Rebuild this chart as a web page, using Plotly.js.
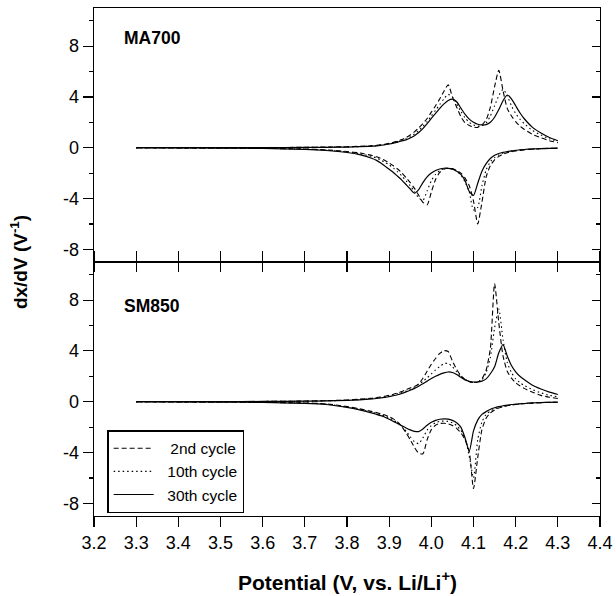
<!DOCTYPE html>
<html>
<head>
<meta charset="utf-8">
<script src="https://cdn.plot.ly/plotly-3.0.1.min.js"></script>
<style>html,body{margin:0;padding:0;background:#fff;}#chart{width:616px;height:596px;}</style>
</head>
<body>
<div id="chart"></div>
<script>
// Potential grid (V vs Li/Li+)
const potential = [3.30, 3.40, 3.50, 3.60, 3.70, 3.75, 3.80, 3.83,
  3.86, 3.87, 3.88, 3.89, 3.90, 3.91, 3.92, 3.93, 3.94, 3.95,
  3.96, 3.97, 3.98, 3.99, 4.00, 4.01, 4.02, 4.03, 4.04, 4.05,
  4.06, 4.07, 4.08, 4.09, 4.10, 4.11, 4.12, 4.13, 4.14, 4.15,
  4.16, 4.17, 4.18, 4.19, 4.20, 4.21, 4.22, 4.24, 4.26, 4.28, 4.30];

const cycleNames = ["2nd cycle", "10th cycle", "30th cycle"];
const panelNames = ["MA700", "SM850"];

// MA700 charge (upper) branches
const ma2Charge = [0, 0, 0, 0.01, 0.03, 0.05, 0.08, 0.11,
  0.15, 0.18, 0.22, 0.27, 0.34, 0.42, 0.52, 0.64, 0.8, 1.0,
  1.25, 1.55, 1.9, 2.3, 2.8, 3.3, 3.85, 4.45, 4.95, 4.0,
  3.2, 2.45, 1.95, 1.75, 1.62, 1.6, 1.8, 2.2, 3.2, 4.8,
  6.1, 4.5, 3.1, 2.5, 2.05, 1.7, 1.45, 1.05, 0.78, 0.55, 0.4];
const ma10Charge = [0, 0, 0, 0.01, 0.02, 0.04, 0.06, 0.09,
  0.13, 0.16, 0.2, 0.25, 0.31, 0.39, 0.48, 0.58, 0.7, 0.86,
  1.08, 1.35, 1.68, 2.05, 2.5, 2.95, 3.4, 3.85, 4.2, 4.0,
  3.45, 2.85, 2.35, 2.0, 1.8, 1.7, 1.72, 1.95, 2.5, 3.3,
  4.1, 4.6, 4.1, 3.3, 2.7, 2.25, 1.9, 1.35, 1.0, 0.7, 0.5];
const ma30Charge = [0, 0, 0, 0.01, 0.02, 0.03, 0.05, 0.08,
  0.12, 0.15, 0.19, 0.23, 0.29, 0.36, 0.44, 0.53, 0.62, 0.76,
  0.95, 1.2, 1.5, 1.9, 2.3, 2.7, 3.1, 3.45, 3.72, 3.83,
  3.62, 3.12, 2.62, 2.25, 2.0, 1.85, 1.79, 1.82, 2.0, 2.4,
  3.0, 3.7, 4.15, 3.85, 3.3, 2.75, 2.3, 1.6, 1.15, 0.8, 0.55];

// MA700 discharge (lower) branches
const ma2Discharge = [0, -0.01, -0.02, -0.05, -0.1, -0.17, -0.3, -0.42,
  -0.62, -0.72, -0.85, -1.0, -1.2, -1.42, -1.68, -1.98, -2.35, -2.75,
  -3.2, -3.75, -4.3, -4.5, -3.5, -2.5, -1.95, -1.7, -1.62, -1.65,
  -1.8, -2.0, -2.4, -3.0, -4.2, -6.0, -4.3, -2.3, -1.4, -0.95,
  -0.68, -0.5, -0.4, -0.32, -0.26, -0.21, -0.17, -0.12, -0.08, -0.06, -0.04];
const ma10Discharge = [0, -0.01, -0.02, -0.05, -0.11, -0.19, -0.33, -0.47,
  -0.7, -0.82, -0.97, -1.15, -1.35, -1.6, -1.9, -2.22, -2.6, -3.0,
  -3.45, -3.95, -4.15, -3.4, -2.6, -2.1, -1.8, -1.65, -1.62, -1.68,
  -1.85, -2.15, -2.7, -3.5, -4.9, -4.7, -3.0, -1.75, -1.1, -0.78,
  -0.57, -0.44, -0.35, -0.28, -0.23, -0.19, -0.15, -0.11, -0.08, -0.05, -0.04];
const ma30Discharge = [0, -0.01, -0.03, -0.06, -0.13, -0.22, -0.38, -0.55,
  -0.85, -1.0, -1.2, -1.45, -1.7, -1.95, -2.25, -2.55, -2.9, -3.25,
  -3.58, -3.3, -2.75, -2.3, -2.0, -1.8, -1.68, -1.62, -1.63, -1.7,
  -1.85, -2.1, -2.6, -3.45, -3.75, -2.8, -1.85, -1.25, -0.85, -0.6,
  -0.46, -0.37, -0.3, -0.25, -0.2, -0.17, -0.14, -0.1, -0.07, -0.05, -0.04];

// SM850 charge (upper) branches
const sm2Charge = [0, 0, 0.01, 0.02, 0.05, 0.08, 0.13, 0.2,
  0.28, 0.32, 0.37, 0.43, 0.5, 0.58, 0.68, 0.8, 0.95, 1.08,
  1.2, 1.4, 1.85, 2.4, 2.95, 3.4, 3.8, 4.02, 3.95, 3.2,
  2.55, 2.05, 1.75, 1.58, 1.5, 1.55, 1.8, 2.5, 4.2, 9.3,
  6.2, 3.6, 2.4, 1.85, 1.5, 1.25, 1.05, 0.75, 0.5, 0.35, 0.25];
const sm10Charge = [0, 0, 0.01, 0.02, 0.04, 0.07, 0.11, 0.17,
  0.25, 0.29, 0.33, 0.39, 0.45, 0.53, 0.62, 0.72, 0.84, 0.98,
  1.15, 1.35, 1.6, 1.88, 2.18, 2.5, 2.78, 3.0, 3.02, 2.75,
  2.35, 2.0, 1.75, 1.6, 1.52, 1.55, 1.72, 2.3, 3.5, 5.8,
  7.3, 4.9, 3.1, 2.3, 1.8, 1.5, 1.28, 0.95, 0.7, 0.5, 0.4];
const sm30Charge = [0, 0, 0.01, 0.02, 0.04, 0.06, 0.1, 0.15,
  0.22, 0.25, 0.29, 0.34, 0.4, 0.47, 0.55, 0.65, 0.77, 0.9,
  1.05, 1.22, 1.42, 1.62, 1.82, 2.0, 2.15, 2.27, 2.34, 2.3,
  2.15, 1.92, 1.72, 1.6, 1.55, 1.55, 1.62, 1.8, 2.2, 2.75,
  3.85, 4.5, 3.6, 2.85, 2.35, 2.0, 1.75, 1.3, 1.0, 0.75, 0.57];

// SM850 discharge (lower) branches
const sm2Discharge = [0, -0.01, -0.02, -0.05, -0.1, -0.17, -0.38, -0.56,
  -0.78, -0.86, -0.95, -1.05, -1.18, -1.35, -1.6, -1.95, -2.45, -3.0,
  -3.6, -4.05, -4.1, -3.0, -2.2, -1.85, -1.72, -1.7, -1.75, -1.88,
  -2.1, -2.45, -3.0, -3.95, -6.85, -4.4, -2.2, -1.3, -0.88, -0.65,
  -0.5, -0.4, -0.32, -0.26, -0.22, -0.18, -0.15, -0.11, -0.08, -0.05, -0.04];
const sm10Discharge = [0, -0.01, -0.02, -0.05, -0.11, -0.19, -0.42, -0.6,
  -0.84, -0.93, -1.03, -1.14, -1.28, -1.45, -1.66, -1.93, -2.3, -2.75,
  -3.15, -3.3, -2.85, -2.25, -1.88, -1.65, -1.55, -1.52, -1.55, -1.66,
  -1.88, -2.25, -2.9, -4.3, -6.0, -3.0, -1.6, -1.0, -0.74, -0.57,
  -0.45, -0.37, -0.3, -0.25, -0.21, -0.17, -0.14, -0.1, -0.07, -0.05, -0.04];
const sm30Discharge = [0, -0.01, -0.03, -0.06, -0.13, -0.22, -0.45, -0.65,
  -0.9, -1.0, -1.1, -1.22, -1.38, -1.55, -1.72, -1.9, -2.07, -2.22,
  -2.33, -2.35, -2.15, -1.85, -1.62, -1.47, -1.38, -1.35, -1.37, -1.47,
  -1.65, -2.0, -2.85, -3.9, -2.3, -1.45, -1.0, -0.78, -0.6, -0.48,
  -0.39, -0.32, -0.27, -0.22, -0.19, -0.16, -0.14, -0.1, -0.07, -0.05, -0.04];

const xTickVals = [3.2, 3.3, 3.4, 3.5, 3.6, 3.7, 3.8, 3.9, 4.0, 4.1, 4.2, 4.3, 4.4];
const xTickText = ["3.2", "3.3", "3.4", "3.5", "3.6", "3.7", "3.8", "3.9", "4.0", "4.1", "4.2", "4.3", "4.4"];
const yTickVals = [-8, -4, 0, 4, 8];
const yTickText = ["-8", "-4", "0", "4", "8"];
const yMinorVals = [-6, -2, 2, 6, 10];

const dashStyles = ["5px,3px", "1.5px,3px", "solid"];
const legendPad = ["\u00a0\u00a0\u2009", "\u00a0\u00a0", "\u00a0\u00a0"];
const FONT = "Liberation Sans, Arial, Helvetica, sans-serif";

const maSets = [[ma2Charge, ma2Discharge], [ma10Charge, ma10Discharge], [ma30Charge, ma30Discharge]];
const smSets = [[sm2Charge, sm2Discharge], [sm10Charge, sm10Discharge], [sm30Charge, sm30Discharge]];

const traces = [];
function addPanel(sets, xa, ya, legend) {
  sets.forEach((pair, i) => {
    pair.forEach((ys, j) => {
      traces.push({
        type: "scatter", mode: "lines",
        x: potential, y: ys, xaxis: xa, yaxis: ya,
        name: legendPad[i] + cycleNames[i], legendgroup: cycleNames[i],
        showlegend: legend && j === 0,
        line: {color: "#000", width: i === 2 ? 1.2 : 1.1, dash: dashStyles[i], shape: "spline", smoothing: 0.6},
        hoverinfo: "skip"
      });
    });
  });
}
addPanel(maSets, "x2", "y2", false);
addPanel(smSets, "x", "y", true);
// carriers for the right-hand (inward-tick) axes
traces.push({type: "scatter", mode: "lines", x: [null], y: [null], xaxis: "x", yaxis: "y3", showlegend: false, hoverinfo: "skip"});
traces.push({type: "scatter", mode: "lines", x: [null], y: [null], xaxis: "x2", yaxis: "y4", showlegend: false, hoverinfo: "skip"});

const tickFont = {family: FONT, size: 18, color: "#000"};
function leftY(domain, anchor) {
  return {
    domain: domain, anchor: anchor, range: [-9, 11],
    tickmode: "array", tickvals: yTickVals, ticktext: yTickText,
    ticks: "outside", ticklen: 10, tickwidth: 1.2, tickcolor: "#000",
    minor: {tickmode: "array", tickvals: yMinorVals, ticks: "outside", ticklen: 4, tickwidth: 1.2, tickcolor: "#000"},
    showline: true, linecolor: "#000", linewidth: 1.4, mirror: false,
    showgrid: false, zeroline: false, tickfont: tickFont, fixedrange: true
  };
}
function rightY(over, anchor) {
  return {
    overlaying: over, side: "right", anchor: anchor, range: [-9, 11],
    tickmode: "array", tickvals: yTickVals, showticklabels: false,
    ticks: "inside", ticklen: 8, tickwidth: 1.2, tickcolor: "#000",
    minor: {tickmode: "array", tickvals: yMinorVals, ticks: "inside", ticklen: 4, tickwidth: 1.2, tickcolor: "#000"},
    showline: true, linecolor: "#000", linewidth: 1.4,
    showgrid: false, zeroline: false, fixedrange: true
  };
}

const layout = {
  width: 616, height: 596,
  margin: {l: 94, r: 16, t: 8, b: 80},
  paper_bgcolor: "#fff", plot_bgcolor: "#fff",
  showlegend: true,
  legend: {
    x: 0.026, y: 0.169, xanchor: "left", yanchor: "top",
    bgcolor: "#fff", bordercolor: "#000", borderwidth: 1.5,
    font: {family: FONT, size: 15.5, color: "#000"},
    tracegroupgap: 0, itemwidth: 40
  },
  xaxis: {
    domain: [0, 1], anchor: "y", range: [3.2, 4.4],
    tickmode: "array", tickvals: xTickVals, ticktext: xTickText,
    ticks: "outside", ticklen: 10, tickwidth: 1.2, tickcolor: "#000",
    showline: true, linecolor: "#000", linewidth: 1.4, mirror: "ticks",
    showgrid: false, zeroline: false, tickfont: tickFont, fixedrange: true
  },
  xaxis2: {
    domain: [0, 1], anchor: "y2", range: [3.2, 4.4], matches: "x",
    tickmode: "array", tickvals: xTickVals, showticklabels: false,
    ticks: "outside", ticklen: 9, tickwidth: 1.2, tickcolor: "#000",
    showline: true, linecolor: "#000", linewidth: 1.4, mirror: true,
    showgrid: false, zeroline: false, fixedrange: true
  },
  yaxis: leftY([0, 0.5], "x"),
  yaxis2: leftY([0.5, 1], "x2"),
  yaxis3: rightY("y", "x"),
  yaxis4: rightY("y2", "x2"),
  annotations: [
    {text: "<b>" + panelNames[0] + "</b>", xref: "paper", yref: "paper", x: 0.055, y: 0.941,
     xanchor: "left", yanchor: "middle", showarrow: false, font: {family: FONT, size: 17.5, color: "#000"}},
    {text: "<b>" + panelNames[1] + "</b>", xref: "paper", yref: "paper", x: 0.055, y: 0.413,
     xanchor: "left", yanchor: "middle", showarrow: false, font: {family: FONT, size: 17.5, color: "#000"}},
    {text: "<b>dx/dV (V<sup>-1</sup>)</b>", xref: "paper", yref: "paper", x: -0.148, y: 0.5,
     xanchor: "center", yanchor: "middle", textangle: -90, showarrow: false, font: {family: FONT, size: 19, color: "#000"}},
    {text: "<b>Potential (V, vs. Li/Li<sup>+</sup>)</b>", xref: "paper", yref: "paper", x: 0.5, y: -0.128,
     xanchor: "center", yanchor: "middle", showarrow: false, font: {family: FONT, size: 21, color: "#000"}}
  ]
};

Plotly.newPlot("chart", traces, layout, {displayModeBar: false, staticPlot: true});
</script>
</body>
</html>
